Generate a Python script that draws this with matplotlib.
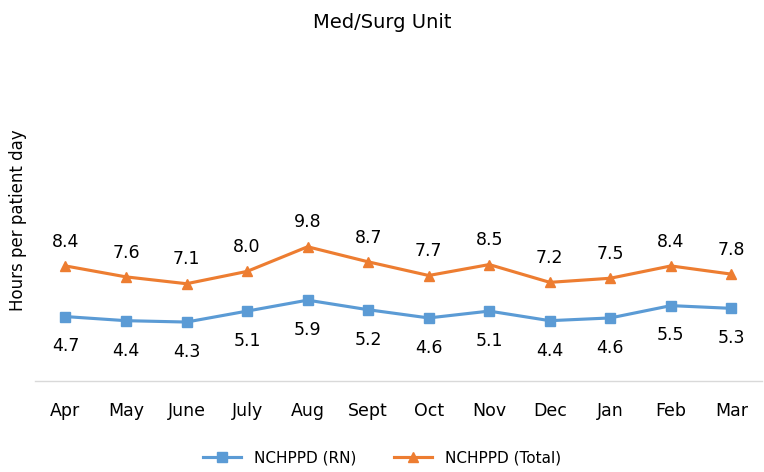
import matplotlib
matplotlib.use("Agg")
import matplotlib.pyplot as plt

months = ["Apr", "May", "June", "July", "Aug", "Sept", "Oct", "Nov", "Dec", "Jan", "Feb", "Mar"]
rn = [4.7, 4.4, 4.3, 5.1, 5.9, 5.2, 4.6, 5.1, 4.4, 4.6, 5.5, 5.3]
total = [8.4, 7.6, 7.1, 8.0, 9.8, 8.7, 7.7, 8.5, 7.2, 7.5, 8.4, 7.8]

blue = "#5B9BD5"
orange = "#ED7D31"

plt.rcParams['font.family'] = ['DejaVu Sans']
fig = plt.figure(figsize=(7.64, 4.72), dpi=100)
ax = fig.add_axes([0.046, 0.193, 0.951, 0.667])
x = list(range(len(months)))
l1, = ax.plot(x, rn, color=blue, lw=2.25, marker='s', ms=7, label="NCHPPD (RN)")
l2, = ax.plot(x, total, color=orange, lw=2.25, marker='^', ms=7, label="NCHPPD (Total)")
for xi, v in zip(x, rn):
    ax.annotate(f"{v:.1f}", (xi, v), xytext=(0, -15), textcoords='offset points',
                ha='center', va='top', fontsize=12.5, color='black')
for xi, v in zip(x, total):
    ax.annotate(f"{v:.1f}", (xi, v), xytext=(0, 11), textcoords='offset points',
                ha='center', va='bottom', fontsize=12.5, color='black')
ax.set_xlim(-0.5, 11.5)
ax.set_ylim(0, 23)
ax.set_xticks(x)
ax.set_xticklabels(months, fontsize=12.5)
ax.tick_params(axis='x', length=0, pad=15)
ax.set_yticks([])
for s in ['top', 'right', 'left']:
    ax.spines[s].set_visible(False)
ax.spines['bottom'].set_color('#D9D9D9')
ax.spines['bottom'].set_linewidth(1)
fig.text(0.024, 0.534, "Hours per patient day", rotation=90, ha='center', va='center', fontsize=12)
fig.text(0.5, 0.953, "Med/Surg Unit", ha='center', va='center', fontsize=14)
fig.legend(handles=[l1, l2], loc='center', bbox_to_anchor=(0.5, 0.03), ncol=2, frameon=False,
           fontsize=11, handlelength=2.5, columnspacing=2.5)
fig.savefig("out.png", dpi=100)
